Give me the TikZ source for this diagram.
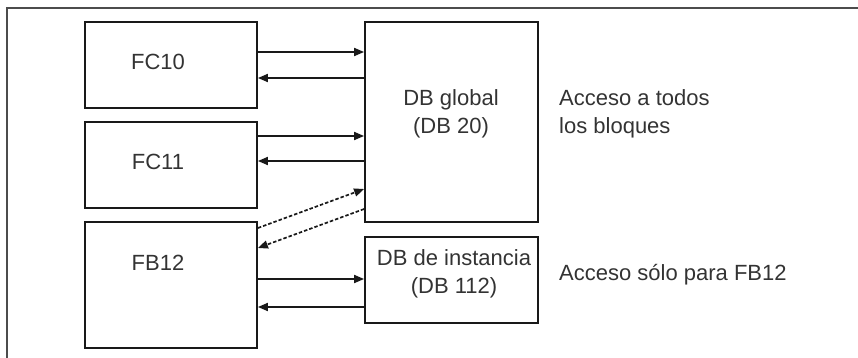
\documentclass[tikz,border=0pt]{standalone}
\usepackage{fontspec}
\setmainfont{Liberation Sans}
\usetikzlibrary{arrows.meta}
\begin{document}
\begin{tikzpicture}[x=1pt,y=-1pt,
  blk/.style={draw=black!90,line width=1.8pt,minimum width=172pt,inner sep=0pt},
  txt/.style={text=black!80,font=\fontsize{22}{28}\selectfont,inner sep=0pt,align=center},
  side/.style={text=black!80,font=\fontsize{22}{28}\selectfont,inner sep=0pt,align=left,anchor=west},
  arr/.style={line width=1.7pt,draw=black!90,-{Triangle[length=10pt,width=8pt]}},
  darr/.style={arr,dash pattern=on 3.5pt off 2pt}]
\useasboundingbox (0,0) rectangle (858,358);
% frame
\draw[line width=2.4pt,black!70] (7,358) -- (7,8) -- (858,8);
% blocks
\node[blk,minimum height=86pt] (FC10) at (171,65) {};
\node[blk,minimum height=86pt] (FC11) at (171,165) {};
\node[blk,minimum height=126pt] (FB12) at (171,285) {};
\node[blk,minimum width=173pt,minimum height=200pt] (DBg) at (451.5,122) {};
\node[blk,minimum width=173pt,minimum height=86pt] (DBi) at (451.5,280) {};
% texts
\node[txt] (t10) at (158,62) {FC10};
\node[txt] (t11) at (158,162) {FC11};
\node[txt] (t12) at (158,263) {FB12};
\node[txt] (tg) at (451,114) {DB global\\(DB 20)};
\node[txt] (ti) at (454,274) {DB de instancia\\(DB 112)};
\node[side] (sg) at (559,114) {Acceso a todos\\los bloques};
\node[side] (si) at (559,275) {Acceso sólo para FB12};
% connectors
\draw[arr] (FC10.east |- 0,52) -- (DBg.west |- 0,52);
\draw[arr] (DBg.west |- 0,78) -- (FC10.east |- 0,78);
\draw[arr] (FC11.east |- 0,136) -- (DBg.west |- 0,136);
\draw[arr] (DBg.west |- 0,161) -- (FC11.east |- 0,161);
\draw[darr] (FB12.east |- 0,228) -- (DBg.west |- 0,189);
\draw[darr] (DBg.west |- 0,209) -- (FB12.east |- 0,248);
\draw[arr] (FB12.east |- 0,279) -- (DBi.west |- 0,279);
\draw[arr] (DBi.west |- 0,307) -- (FB12.east |- 0,307);
\end{tikzpicture}
\end{document}
